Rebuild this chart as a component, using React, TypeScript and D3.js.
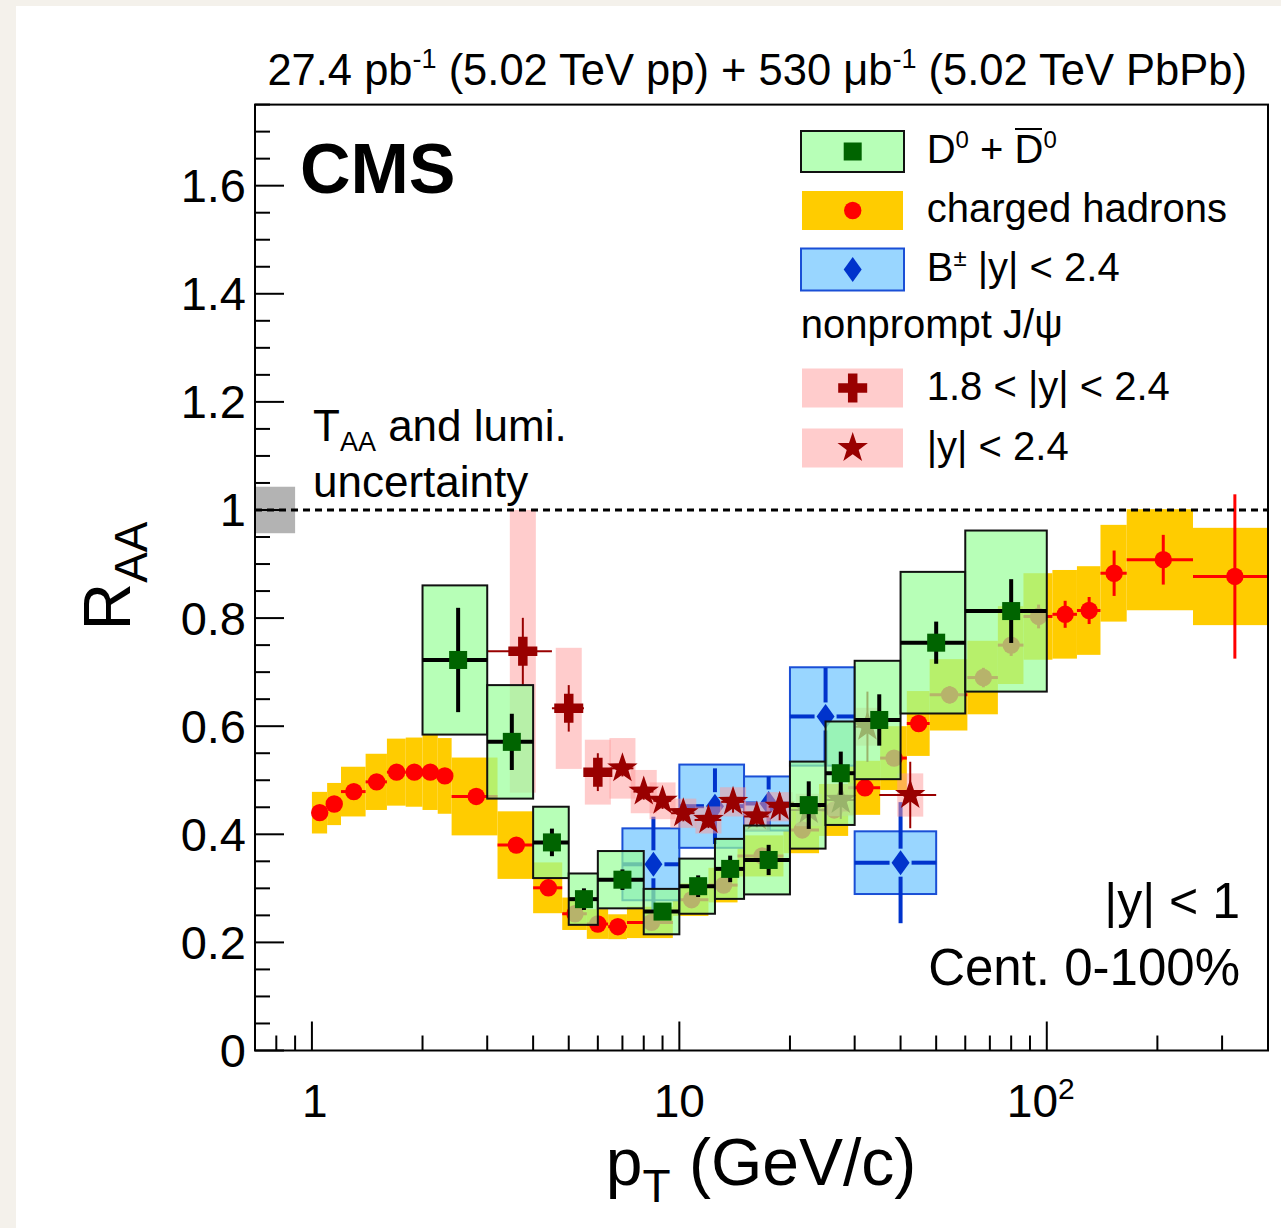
import React from 'react'
import * as d3 from 'd3'

const W = 1281
const H = 1228
const FF = "'Liberation Sans', Arial, Helvetica, sans-serif"

// charged hadrons |eta| < 1 (bin edges, values, stat and syst errors)
const chEdges = [1.0, 1.1, 1.2, 1.4, 1.6, 1.8, 2.0, 2.2, 2.4, 3.2, 4.0, 4.8, 5.6, 6.4, 7.2, 9.6, 12.0, 14.4, 19.2, 24.0, 28.8, 35.2, 41.6, 48.0, 60.8, 73.6, 86.4, 103.6, 120.8, 140.0, 165.0, 250.0, 400.0]
const chY = [0.44, 0.456, 0.479, 0.497, 0.515, 0.515, 0.515, 0.508, 0.47, 0.38, 0.301, 0.253, 0.234, 0.229, 0.237, 0.279, 0.306, 0.36, 0.408, 0.445, 0.486, 0.541, 0.605, 0.658, 0.69, 0.75, 0.803, 0.807, 0.814, 0.883, 0.908, 0.877]
const chStat = [0.003, 0.003, 0.003, 0.003, 0.003, 0.003, 0.003, 0.003, 0.004, 0.004, 0.004, 0.004, 0.004, 0.004, 0.004, 0.005, 0.005, 0.006, 0.007, 0.008, 0.01, 0.012, 0.015, 0.016, 0.018, 0.02, 0.022, 0.025, 0.025, 0.042, 0.046, 0.152]
const chSys = [0.0385, 0.039, 0.046, 0.052, 0.062, 0.064, 0.07, 0.07, 0.072, 0.0625, 0.047, 0.03, 0.0275, 0.023, 0.029, 0.03, 0.032, 0.038, 0.043, 0.048, 0.05, 0.059, 0.06, 0.066, 0.068, 0.072, 0.08, 0.082, 0.082, 0.0895, 0.0935, 0.09]

// D0 + D0bar
const dLo = [2, 3, 4, 5, 6, 8, 10, 12.5, 15, 20, 25, 30, 40, 60]
const dHi = [3, 4, 5, 6, 8, 10, 12.5, 15, 20, 25, 30, 40, 60, 100]
const dX = [2.5, 3.5, 4.5, 5.5, 7, 9, 11.25, 13.75, 17.5, 22.5, 27.5, 35, 50, 80]
const dY = [0.7225, 0.571, 0.385, 0.28, 0.316, 0.257, 0.304, 0.336, 0.3525, 0.454, 0.513, 0.6115, 0.7545, 0.813]
const dStat = [0.0965, 0.052, 0.0255, 0.02, 0.019, 0.012, 0.02, 0.0245, 0.028, 0.044, 0.04, 0.0475, 0.039, 0.059]
const dSys = [0.138, 0.105, 0.066, 0.0475, 0.053, 0.042, 0.051, 0.0555, 0.0637, 0.0805, 0.0957, 0.1095, 0.131, 0.149]

// B+- |y| < 2.4
const bLo = [7, 10, 15, 20, 30]
const bHi = [10, 15, 20, 30, 50]
const bX = [8.5, 12.5, 17.5, 25, 40]
const bY = [0.3445, 0.452, 0.457, 0.618, 0.3475]
const bStat = [0.088, 0.07, 0.05, 0.09, 0.112]
const bSys = [0.0665, 0.077, 0.05, 0.091, 0.058]

// nonprompt J/psi 1.8 < |y| < 2.4
const jfLo = [3, 4.5, 5.5]
const jfHi = [4.5, 5.5, 6.5]
const jfX = [3.75, 5, 6]
const jfY = [0.7385, 0.633, 0.515]
const jfStat = [0.062, 0.043, 0.035]
const jfSys = [0.2615, 0.112, 0.06]

// nonprompt J/psi |y| < 2.4
const jmLo = [6.5, 7.5, 8.5, 9.5, 11, 13, 15, 17.5, 20, 25, 30, 35]
const jmHi = [7.5, 8.5, 9.5, 11, 13, 15, 17.5, 20, 25, 30, 35, 50]
const jmX = [7, 8, 9, 10.25, 12, 14, 16.25, 18.75, 22.5, 27.5, 32.5, 42.5]
const jmY = [0.522, 0.479, 0.462, 0.439, 0.4265, 0.46, 0.433, 0.451, 0.445, 0.4635, 0.599, 0.4727]
const jmStat = [0.015, 0.015, 0.015, 0.015, 0.015, 0.02, 0.02, 0.025, 0.03, 0.035, 0.065, 0.0615]
const jmSys = [0.056, 0.04, 0.034, 0.027, 0.025, 0.027, 0.027, 0.027, 0.03, 0.03, 0.035, 0.04]

const yMajor = [0, 0.2, 0.4, 0.6, 0.8, 1, 1.2, 1.4, 1.6]
const yLabels = ['0', '0.2', '0.4', '0.6', '0.8', '1', '1.2', '1.4', '1.6']
const xMajor = [1, 10, 100]
const xMinor = [0.8, 0.9, 2, 3, 4, 5, 6, 7, 8, 9, 20, 30, 40, 50, 60, 70, 80, 90, 200, 300]

const x = d3.scaleLog().domain([0.7, 400]).range([255, 1268])
const y = d3.scaleLinear().domain([0, 1.75]).range([1050.5, 104.6])

const C = {
  yellow: '#ffcc00',
  red: '#ff0000',
  green: 'rgba(152,255,152,0.7)',
  dgreen: '#006400',
  blueFill: '#99d6ff',
  blueLine: '#1a4fd6',
  blue: '#0033cc',
  pink: 'rgba(255,153,153,0.5)',
  dred: '#990000',
}

const starPath = (cx: number, cy: number, R = 16, r = 6.3) => {
  const pts: string[] = []
  for (let i = 0; i < 10; i++) {
    const a = -Math.PI / 2 + (i * Math.PI) / 5
    const rr = i % 2 ? r : R
    pts.push(`${cx + rr * Math.cos(a)},${cy + rr * Math.sin(a)}`)
  }
  return 'M' + pts.join('L') + 'Z'
}
const crossPath = (cx: number, cy: number, L = 14.5, t = 4.75) =>
  `M${cx - t},${cy - L}H${cx + t}V${cy - t}H${cx + L}V${cy + t}H${cx + t}V${cy + L}H${cx - t}V${cy + t}H${cx - L}V${cy - t}H${cx - t}Z`
const diamondPath = (cx: number, cy: number) =>
  `M${cx},${cy - 12.5}L${cx + 9},${cy}L${cx},${cy + 12.5}L${cx - 9},${cy}Z`

const App = () => {
  if (typeof document !== 'undefined') document.body.style.margin = '0'
  const ch = chY.map((v, i) => ({ lo: chEdges[i], hi: chEdges[i + 1], xc: (chEdges[i] + chEdges[i + 1]) / 2, v, st: chStat[i], sy: chSys[i] }))
  const dd = dY.map((v, i) => ({ lo: dLo[i], hi: dHi[i], xc: dX[i], v, st: dStat[i], sy: dSys[i] }))
  const bb = bY.map((v, i) => ({ lo: bLo[i], hi: bHi[i], xc: bX[i], v, st: bStat[i], sy: bSys[i] }))
  const jf = jfY.map((v, i) => ({ lo: jfLo[i], hi: jfHi[i], xc: jfX[i], v, st: jfStat[i], sy: jfSys[i] }))
  const jm = jmY.map((v, i) => ({ lo: jmLo[i], hi: jmHi[i], xc: jmX[i], v, st: jmStat[i], sy: jmSys[i] }))
  const yMinor = d3.range(0, 1.7501, 0.05).filter(v => Math.abs(v / 0.2 - Math.round(v / 0.2)) > 0.01)

  return (
    <svg width={W} height={H} style={{ position: 'absolute', left: 0, top: 0 }} fontFamily={FF}>
      <rect x={0} y={0} width={W} height={H} fill="#f4f1eb" />
      <rect x={16} y={6} width={W - 16} height={H - 6} fill="#ffffff" />
      <defs>
        <clipPath id="plot">
          <rect x={255} y={104.6} width={1013} height={945.9} />
        </clipPath>
      </defs>

      <g clipPath="url(#plot)">
        {/* T_AA and lumi uncertainty */}
        <rect x={x(0.7)} y={y(1.043)} width={x(0.9) - x(0.7)} height={y(0.957) - y(1.043)} fill="#b3b3b3" />

        {/* charged hadrons */}
        {ch.map((d, i) => (
          <rect key={'cy' + i} x={x(d.lo)} y={y(d.v + d.sy)} width={x(d.hi) - x(d.lo)} height={y(d.v - d.sy) - y(d.v + d.sy)} fill={C.yellow} />
        ))}
        {ch.map((d, i) => (
          <g key={'cp' + i} stroke={C.red} strokeWidth={3}>
            <line x1={x(d.lo)} x2={x(d.hi)} y1={y(d.v)} y2={y(d.v)} />
            <line x1={x(d.xc)} x2={x(d.xc)} y1={y(d.v + d.st)} y2={y(d.v - d.st)} />
            <circle cx={x(d.xc)} cy={y(d.v)} r={8.7} fill={C.red} stroke="none" />
          </g>
        ))}

        {/* B+- */}
        {bb.map((d, i) => (
          <rect key={'bb' + i} x={x(d.lo)} y={y(d.v + d.sy)} width={x(d.hi) - x(d.lo)} height={y(d.v - d.sy) - y(d.v + d.sy)} fill={C.blueFill} stroke={C.blueLine} strokeWidth={2} />
        ))}
        {bb.map((d, i) => (
          <g key={'bp' + i} stroke={C.blue} strokeWidth={4}>
            <line x1={x(d.lo)} x2={x(d.xc) - 11} y1={y(d.v)} y2={y(d.v)} />
            <line x1={x(d.xc) + 11} x2={x(d.hi)} y1={y(d.v)} y2={y(d.v)} />
            <line x1={x(d.xc)} x2={x(d.xc)} y1={y(d.v + d.st)} y2={y(d.v) - 14} />
            <line x1={x(d.xc)} x2={x(d.xc)} y1={y(d.v) + 14} y2={y(d.v - d.st)} />
            <path d={diamondPath(x(d.xc), y(d.v))} fill={C.blue} stroke="none" />
          </g>
        ))}

        {/* nonprompt J/psi */}
        {jf.map((d, i) => (
          <rect key={'jfb' + i} x={x(d.xc) - 13} y={y(d.v + d.sy)} width={26} height={y(d.v - d.sy) - y(d.v + d.sy)} fill={C.pink} />
        ))}
        {jm.map((d, i) => (
          <rect key={'jmb' + i} x={x(d.xc) - 13} y={y(d.v + d.sy)} width={26} height={y(d.v - d.sy) - y(d.v + d.sy)} fill={C.pink} />
        ))}
        {jf.map((d, i) => (
          <g key={'jfp' + i} stroke={C.dred} strokeWidth={2}>
            <line x1={x(d.lo)} x2={x(d.hi)} y1={y(d.v)} y2={y(d.v)} />
            <line x1={x(d.xc)} x2={x(d.xc)} y1={y(d.v + d.st)} y2={y(d.v - d.st)} />
            <path d={crossPath(x(d.xc), y(d.v))} fill={C.dred} stroke="none" />
          </g>
        ))}
        {jm.map((d, i) => (
          <g key={'jmp' + i} stroke={C.dred} strokeWidth={2}>
            <line x1={x(d.lo)} x2={x(d.hi)} y1={y(d.v)} y2={y(d.v)} />
            <line x1={x(d.xc)} x2={x(d.xc)} y1={y(d.v + d.st)} y2={y(d.v - d.st)} />
            <path d={starPath(x(d.xc), y(d.v))} fill={C.dred} stroke="none" />
          </g>
        ))}

        {/* D0 */}
        {dd.map((d, i) => (
          <rect key={'db' + i} x={x(d.lo)} y={y(d.v + d.sy)} width={x(d.hi) - x(d.lo)} height={y(d.v - d.sy) - y(d.v + d.sy)} fill={C.green} stroke="#111" strokeWidth={2} />
        ))}
        {dd.map((d, i) => (
          <g key={'dp' + i} stroke="#000" strokeWidth={4}>
            <line x1={x(d.lo)} x2={x(d.hi)} y1={y(d.v)} y2={y(d.v)} />
            <line x1={x(d.xc)} x2={x(d.xc)} y1={y(d.v + d.st)} y2={y(d.v - d.st)} />
            <rect x={x(d.xc) - 9} y={y(d.v) - 9} width={18} height={18} fill={C.dgreen} stroke="none" />
          </g>
        ))}

        <line x1={255} x2={1268} y1={y(1)} y2={y(1)} stroke="#000" strokeWidth={3} strokeDasharray="7 5" />
      </g>

      {/* frame and axes */}
      <rect x={255} y={104.6} width={1013} height={945.9} fill="none" stroke="#000" strokeWidth={2} />
      <g stroke="#000" strokeWidth={2}>
        {yMajor.map(v => <line key={'ym' + v} x1={255} x2={284} y1={y(v)} y2={y(v)} />)}
        {yMinor.map(v => <line key={'yn' + v} x1={255} x2={270} y1={y(v)} y2={y(v)} />)}
        {xMajor.map(v => <line key={'xm' + v} x1={x(v)} x2={x(v)} y1={1050.5} y2={1021.5} />)}
        {xMinor.map(v => <line key={'xn' + v} x1={x(v)} x2={x(v)} y1={1050.5} y2={1035.5} />)}
      </g>
      <g fontSize={47} textAnchor="end">
        {yMajor.map((v, i) => (
          <text key={'yl' + v} x={246} y={y(v) + 16.5}>{yLabels[i]}</text>
        ))}
      </g>
      <g fontSize={46} textAnchor="middle">
        <text x={x(1) + 3} y={1117}>1</text>
        <text x={x(10)} y={1117}>10</text>
        <text x={x(100) - 6} y={1117}>10<tspan fontSize={30} dy={-18}>2</tspan></text>
      </g>

      <text x={761} y={1185} fontSize={66} textAnchor="middle">p<tspan fontSize={46} dy={17}>T</tspan><tspan dy={-17}> (GeV/c)</tspan></text>
      <text transform="translate(130,576) rotate(-90)" fontSize={66} textAnchor="middle">R<tspan fontSize={46} dy={17}>AA</tspan></text>

      <text x={1247} y={85} fontSize={43.5} textAnchor="end">27.4 pb<tspan fontSize={27} dy={-17}>-1</tspan><tspan dy={17}> (5.02 TeV pp) + 530 μb</tspan><tspan fontSize={27} dy={-17}>-1</tspan><tspan dy={17}> (5.02 TeV PbPb)</tspan></text>

      <text x={300} y={193} fontSize={70} fontWeight="bold">CMS</text>
      <text x={313} y={441} fontSize={44}>T<tspan fontSize={27} dy={10}>AA</tspan><tspan dy={-10}> and lumi.</tspan></text>
      <text x={313} y={497} fontSize={44}>uncertainty</text>

      <text x={1240} y={918} fontSize={50} textAnchor="end">|y| &lt; 1</text>
      <text x={1240} y={985} fontSize={51} textAnchor="end">Cent. 0-100%</text>

      {/* legend */}
      <rect x={801} y={131} width={103} height={41} fill={C.green} stroke="#111" strokeWidth={2} />
      <rect x={852.7 - 9} y={151.5 - 9} width={18} height={18} fill={C.dgreen} />
      <rect x={802} y={191} width={101} height={39} fill={C.yellow} />
      <circle cx={852.7} cy={210.5} r={8.7} fill={C.red} />
      <rect x={801} y={248.5} width={103} height={42} fill={C.blueFill} stroke={C.blueLine} strokeWidth={2} />
      <path d={diamondPath(852.7, 269.5)} fill={C.blue} />
      <rect x={802} y={368.5} width={101} height={39} fill={C.pink} />
      <path d={crossPath(852.7, 388)} fill={C.dred} />
      <rect x={802} y={428.5} width={101} height={39} fill={C.pink} />
      <path d={starPath(852.7, 448)} fill={C.dred} />

      <g fontSize={40}>
        <text x={926.7} y={163}>D<tspan fontSize={24} dy={-15}>0</tspan><tspan dy={15}> + D</tspan><tspan fontSize={24} dy={-15}>0</tspan></text>
        <text x={926.7} y={222}>charged hadrons</text>
        <text x={926.7} y={281}>B<tspan fontSize={24} dy={-15}>±</tspan><tspan dy={15}> |y| &lt; 2.4</tspan></text>
        <text x={800.7} y={338}>nonprompt J/ψ</text>
        <text x={926.7} y={399.5}>1.8 &lt; |y| &lt; 2.4</text>
        <text x={926.7} y={459.5}>|y| &lt; 2.4</text>
      </g>
      <line x1={1015} x2={1042} y1={129} y2={129} stroke="#000" strokeWidth={2} />
    </svg>
  )
}

export default App
